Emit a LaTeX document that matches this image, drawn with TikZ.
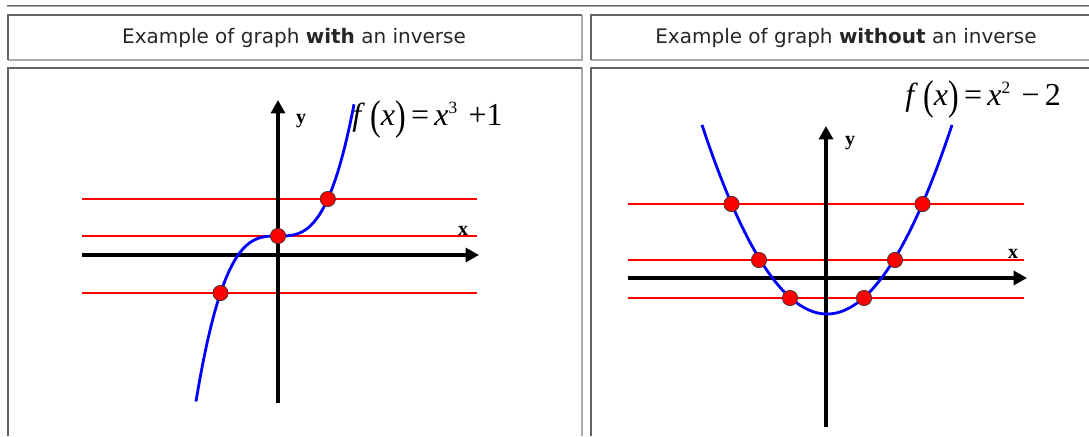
\documentclass[tikz,border=0pt]{standalone}
\usepackage{fontspec}
\setmainfont{DejaVu Sans}
\newfontfamily\tnr{Liberation Serif}
\usetikzlibrary{arrows.meta}
\definecolor{bdark}{RGB}{100,100,100}
\definecolor{blight}{RGB}{170,170,170}
\definecolor{curveblue}{RGB}{0,0,255}
\tikzset{
  hdr/.style={font=\fontsize{15}{17}\selectfont, text=black!85, inner sep=0pt},
  axis/.style={line width=2.3pt, -{Triangle[length=10pt,width=10.5pt]}},
  hline/.style={red, line width=0.9pt},
  curve/.style={curveblue, line width=2.1pt},
  dot/.style={circle, fill=red, draw=black!80, line width=0.5pt, minimum size=11.5pt, inner sep=0pt},
  lbl/.style={font=\tnr\bfseries\fontsize{15}{17}\selectfont, inner sep=0pt},
  formula/.style={font=\tnr\fontsize{24}{28}\selectfont, inner sep=0pt, anchor=west},
  cellL/.style={bdark, line width=1pt},
  cellR/.style={blight, line width=1pt}
}
\newcommand{\tallp}[1]{\raisebox{-0.12em}{\scalebox{1}[1.3]{#1}}}
\begin{document}
\begin{tikzpicture}[x=0.75pt,y=-0.75pt]
\useasboundingbox (0,0) rectangle (1089,436);
% top rule
\draw[blight, line width=1.2pt] (7,6.5) -- (1089,6.5);
\draw[bdark, line width=0.6pt] (7,5.5) -- (1089,5.5);
% header cells
\draw[cellR] (8,60) -- (582,60) -- (582,15);
\draw[cellL] (8,60) -- (8,15) -- (582,15);
\draw[cellR] (591,60) -- (1089,60);
\draw[cellL] (591,60) -- (591,15) -- (1089,15);
% body cells
\draw[cellR] (582,68) -- (582,436);
\draw[cellL] (8,436) -- (8,68) -- (582,68);
\draw[cellL] (591,436) -- (591,68) -- (1089,68);
\node[hdr] (h1) at (294,38) {Example of graph \textbf{with} an inverse};
\node[hdr] (h2) at (846,38) {Example of graph \textbf{without} an inverse};

% ---------- left graph ----------
\coordinate (lxa) at (82,255); \coordinate (lxb) at (479,255);
\coordinate (lya) at (278,403); \coordinate (lyb) at (278,100);
\foreach \yy/\n in {199/a,236/b,293/c}{
  \coordinate (lr\n1) at (82,\yy); \coordinate (lr\n2) at (477,\yy);
  \draw[hline] (lr\n1) -- (lr\n2);
}
\draw[axis] (lxa) -- (lxb);
\draw[axis] (lya) -- (lyb);
\draw[curve] plot[domain=-82:76, samples=80, smooth] ({278+\x},{236-0.3*(\x/10)*(\x/10)*(\x/10)});
\node[dot] (p1) at (327.8,199) {};
\node[dot] (p2) at (278,236) {};
\node[dot] (p3) at (220.5,293) {};
\node[lbl] (ly) at (301,121) {y};
\node[lbl] (lx) at (463,231) {x};
\node[formula] (f1) at (352,119) {\textit{f}\,\tallp{(}\textit{x}\tallp{)}\,=\,\textit{x}\textsuperscript{\fontsize{13}{14}\selectfont 3}\,\,+1};

% ---------- right graph ----------
\coordinate (rxa) at (628,278); \coordinate (rxb) at (1027,278);
\coordinate (rya) at (826,427); \coordinate (ryb) at (826,126);
\foreach \yy/\n in {204/a,260/b,298/c}{
  \coordinate (rr\n1) at (628,\yy); \coordinate (rr\n2) at (1024,\yy);
  \draw[hline] (rr\n1) -- (rr\n2);
}
\draw[axis] (rxa) -- (rxb);
\draw[axis] (rya) -- (ryb);
\draw[curve] plot[domain=-125:125, samples=80, smooth] ({827+\x},{314-1.21*(\x/10)*(\x/10)});
\node[dot] (q1) at (731.5,204) {};
\node[dot] (q2) at (922.5,204) {};
\node[dot] (q3) at (759,260) {};
\node[dot] (q4) at (895,260) {};
\node[dot] (q5) at (790,298) {};
\node[dot] (q6) at (864,298) {};
\node[lbl] (ry) at (850,143) {y};
\node[lbl] (rx) at (1013,254) {x};
\node[formula] (f2) at (905,99) {\textit{f}\,\tallp{(}\textit{x}\tallp{)}\,=\,\textit{x}\textsuperscript{\fontsize{13}{14}\selectfont 2}\,\,−\,2};
\end{tikzpicture}
\end{document}
